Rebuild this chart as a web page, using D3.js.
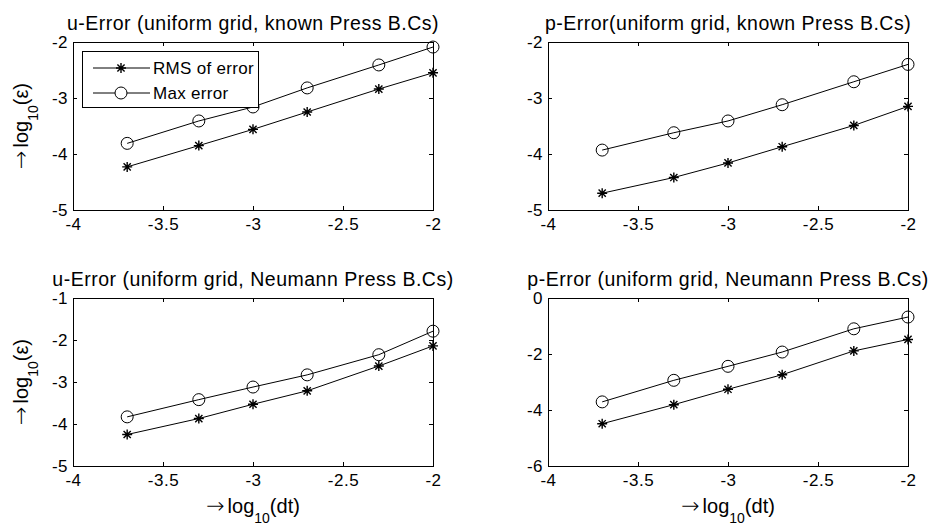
<!DOCTYPE html>
<html>
<head>
<meta charset="utf-8">
<script src="https://cdn.jsdelivr.net/npm/d3@7"></script>
<style>
  html, body { margin: 0; padding: 0; background: #fff; }
  svg { display: block; }
  text { font-family: "Liberation Sans", Arial, Helvetica, sans-serif; fill: #000; }
  .arrow { font-family: "DejaVu Sans", sans-serif; font-weight: 200; }
</style>
</head>
<body>
<svg id="fig" width="931" height="525"></svg>
<script>
// log10 of the time steps
const logDt = [-3.699, -3.301, -3.0, -2.699, -2.301, -2.0];

// u-error, known pressure boundary conditions
const uKnownRms = [-4.23, -3.85, -3.56, -3.25, -2.84, -2.55];
const uKnownMax = [-3.81, -3.41, -3.16, -2.82, -2.41, -2.09];

// p-error, known pressure boundary conditions
const pKnownRms = [-4.70, -4.42, -4.16, -3.87, -3.49, -3.15];
const pKnownMax = [-3.93, -3.62, -3.41, -3.12, -2.71, -2.40];

// u-error, Neumann pressure boundary conditions
const uNeumRms = [-4.25, -3.87, -3.53, -3.21, -2.62, -2.14];
const uNeumMax = [-3.83, -3.42, -3.12, -2.83, -2.35, -1.79];

// p-error, Neumann pressure boundary conditions
const pNeumRms = [-4.49, -3.81, -3.26, -2.74, -1.89, -1.48];
const pNeumMax = [-3.71, -2.94, -2.44, -1.93, -1.10, -0.68];

const xTicks = [-4, -3.5, -3, -2.5, -2];
const seriesNames = ["RMS of error", "Max error"];

const panels = [
  { title: "u-Error (uniform grid, known Press B.Cs)", rms: uKnownRms, max: uKnownMax,
    yDomain: [-5, -2], yTicks: [-5, -4, -3, -2], left: 73, top: 42, ylab: true, xlab: false, legend: true },
  { title: "p-Error(uniform grid, known Press B.Cs)", rms: pKnownRms, max: pKnownMax,
    yDomain: [-5, -2], yTicks: [-5, -4, -3, -2], left: 548, top: 42, ylab: false, xlab: false, legend: false },
  { title: "u-Error (uniform grid, Neumann Press B.Cs)", rms: uNeumRms, max: uNeumMax,
    yDomain: [-5, -1], yTicks: [-5, -4, -3, -2, -1], left: 73, top: 298, ylab: true, xlab: true, legend: false },
  { title: "p-Error (uniform grid, Neumann Press B.Cs)", rms: pNeumRms, max: pNeumMax,
    yDomain: [-6, 0], yTicks: [-6, -4, -2, 0], left: 548, top: 298, ylab: false, xlab: true, legend: false }
];

const W = 360, H = 168, tickLen = 4;
const svg = d3.select("#fig");

function starPath(r) {
  const d = r * 0.72;
  return `M${-r},0H${r}M0,${-r}V${r}M${-d},${-d}L${d},${d}M${-d},${d}L${d},${-d}`;
}

// "→ log10(...)" with a subscripted 10
function logLabel(t, inner) {
  t.append("tspan").attr("class", "arrow").style("font-size", "22px").text("\u2192");
  t.append("tspan").attr("dx", 3).text("log");
  t.append("tspan").attr("dy", 10).style("font-size", "14px").text("10");
  t.append("tspan").attr("dy", -10).text("(" + inner + ")");
}

panels.forEach(p => {
  const g = svg.append("g").attr("transform", `translate(${p.left},${p.top})`);
  const x = d3.scaleLinear().domain([-4, -2]).range([0, W]);
  const y = d3.scaleLinear().domain(p.yDomain).range([H, 0]);

  // inward ticks on all four sides, boxed axes
  const fmt = d => String(d);
  const axB = g.append("g").attr("transform", `translate(0,${H})`)
    .call(d3.axisBottom(x).tickValues(xTicks).tickSizeInner(-tickLen).tickSizeOuter(0).tickPadding(8).tickFormat(fmt));
  const axT = g.append("g")
    .call(d3.axisTop(x).tickValues(xTicks).tickSizeInner(-tickLen).tickSizeOuter(0).tickFormat(""));
  const axL = g.append("g")
    .call(d3.axisLeft(y).tickValues(p.yTicks).tickSizeInner(-tickLen).tickSizeOuter(0).tickPadding(5).tickFormat(fmt));
  const axR = g.append("g").attr("transform", `translate(${W},0)`)
    .call(d3.axisRight(y).tickValues(p.yTicks).tickSizeInner(-tickLen).tickSizeOuter(0).tickFormat(""));
  [axB, axT, axL, axR].forEach(a => {
    a.select(".domain").remove();
    a.selectAll("line").attr("stroke", "#000").attr("stroke-width", 1).attr("shape-rendering", "crispEdges");
    a.selectAll("text").style("font-size", "17px").style("letter-spacing", "0.5px").attr("font-family", null);
  });
  g.append("rect").attr("x", 0.5).attr("y", 0.5).attr("width", W).attr("height", H)
    .attr("fill", "none").attr("stroke", "#000").attr("stroke-width", 1).attr("shape-rendering", "crispEdges");

  // title
  g.append("text").attr("x", W / 2).attr("y", -12).attr("text-anchor", "middle")
    .style("font-size", "19.5px").style("letter-spacing", "0.5px").text(p.title);

  const line = d3.line().x((d, i) => x(logDt[i])).y(d => y(d));
  [p.rms, p.max].forEach((vals, k) => {
    g.append("path").datum(vals).attr("d", line)
      .attr("fill", "none").attr("stroke", "#000").attr("stroke-width", 1);
    const m = g.append("g").selectAll("g").data(vals).join("g")
      .attr("transform", (d, i) => `translate(${x(logDt[i])},${y(d)})`);
    if (k === 0) {
      m.append("path").attr("d", starPath(5)).attr("stroke", "#000").attr("stroke-width", 1.4).attr("fill", "none");
    } else {
      m.append("circle").attr("r", 6).attr("fill", "none").attr("stroke", "#000").attr("stroke-width", 1);
    }
  });

  if (p.ylab) {
    const t = g.append("text").attr("transform", `translate(-45,${H / 2}) rotate(-90)`)
      .attr("text-anchor", "middle").style("font-size", "20px");
    logLabel(t, "\u03b5");
  }
  if (p.xlab) {
    const t = g.append("text").attr("x", W / 2).attr("y", H + 47)
      .attr("text-anchor", "middle").style("font-size", "20px");
    logLabel(t, "dt");
  }

  if (p.legend) {
    const lg = g.append("g").attr("transform", "translate(9,9)");
    lg.append("rect").attr("x", 0.5).attr("y", 0.5).attr("width", 176).attr("height", 56)
      .attr("fill", "#fff").attr("stroke", "#000").attr("stroke-width", 1).attr("shape-rendering", "crispEdges");
    seriesNames.forEach((name, k) => {
      const yy = 17 + k * 25;
      lg.append("line").attr("x1", 11).attr("x2", 68).attr("y1", yy).attr("y2", yy)
        .attr("stroke", "#000").attr("stroke-width", 1);
      if (k === 0) {
        lg.append("path").attr("transform", `translate(39,${yy})`).attr("d", starPath(5))
          .attr("stroke", "#000").attr("stroke-width", 1.4).attr("fill", "none");
      } else {
        lg.append("circle").attr("cx", 39).attr("cy", yy).attr("r", 6)
          .attr("fill", "#fff").attr("stroke", "#000").attr("stroke-width", 1);
      }
      lg.append("text").attr("x", 71).attr("y", yy + 6).style("font-size", "17px")
        .style("letter-spacing", "0.3px").text(name);
    });
  }
});
</script>
</body>
</html>
